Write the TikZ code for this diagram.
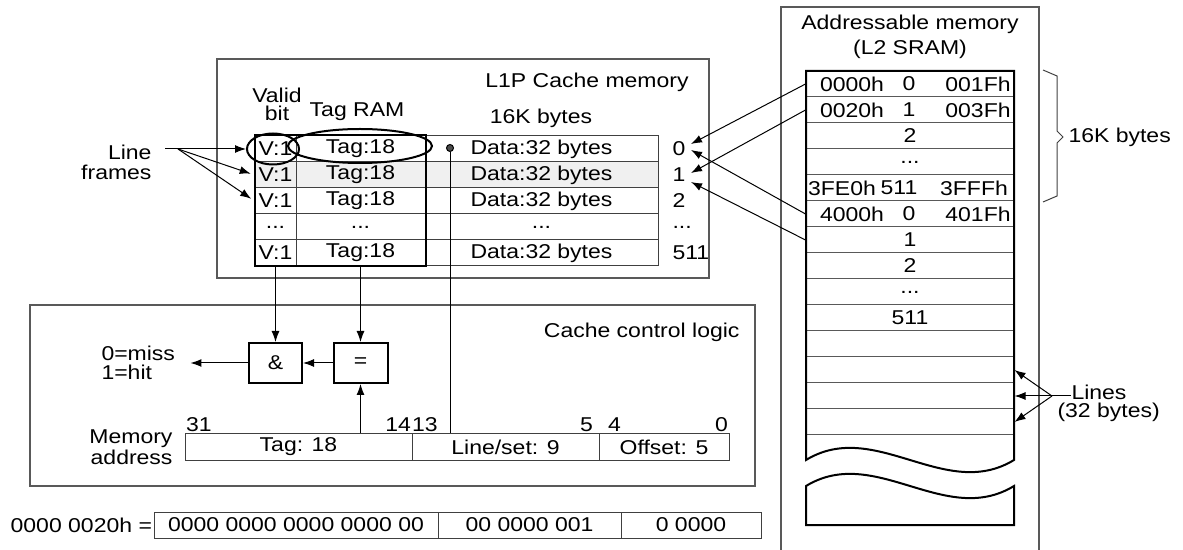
\documentclass[tikz,border=0pt]{standalone}
\usepackage{fontspec}
\setmainfont{Liberation Sans}[FakeStretch=1.15]
\usetikzlibrary{arrows.meta,shapes.geometric,positioning}

\tikzset{
  frame/.style={draw=black!65, line width=0.8pt},
  cell/.style={draw=black!75, line width=0.5pt, inner sep=0pt, minimum height=13pt},
  bold/.style={line width=1pt},
  arr/.style={-{Latex[length=5.5pt,width=4pt]}, line width=0.5pt},
  gate/.style={draw, line width=1pt, minimum width=26.5pt, minimum height=20pt, inner sep=0pt},
  memrow/.style={draw=black!65, line width=0.5pt, minimum width=104pt, minimum height=13pt, inner sep=0pt},
  lbl/.style={inner sep=0pt},
}

\begin{document}
\begin{tikzpicture}[x=0.5pt, y=-0.5pt, font=\fontsize{10}{10}\selectfont, line width=0.5pt]
        \useasboundingbox (0,0) rectangle (1183,550);
        % L1P cache memory
        \draw[frame] (217,59) rectangle (709,278);
        \node[lbl] (l1ptitle) at (587,82) {L1P Cache memory};
        \node[lbl] (l1psize) at (541,118) {16K bytes};
        \node[lbl, align=center, font=\fontsize{10}{9}\selectfont] (validhd) at (277,104) {Valid\\bit};
        \node[lbl] (taghd) at (357,112) {Tag RAM};
        \node[cell, minimum width=20.5pt] (v0) at (275.5,149) {V:1};
        \node[cell, minimum width=64.5pt] (tg0) at (360.5,149) {Tag:18};
        \node[cell, minimum width=116.5pt] (d0) at (541.5,149) {Data:32 bytes};
        \node[cell, fill=gray!12, minimum width=20.5pt] (v1) at (275.5,175) {V:1};
        \node[cell, fill=gray!12, minimum width=64.5pt] (tg1) at (360.5,175) {Tag:18};
        \node[cell, fill=gray!12, minimum width=116.5pt] (d1) at (541.5,175) {Data:32 bytes};
        \node[cell, minimum width=20.5pt] (v2) at (275.5,201) {V:1};
        \node[cell, minimum width=64.5pt] (tg2) at (360.5,201) {Tag:18};
        \node[cell, minimum width=116.5pt] (d2) at (541.5,201) {Data:32 bytes};
        \node[cell, minimum width=20.5pt] (v3) at (275.5,227) {...};
        \node[cell, minimum width=64.5pt] (tg3) at (360.5,227) {...};
        \node[cell, minimum width=116.5pt] (d3) at (541.5,227) {...};
        \node[cell, minimum width=20.5pt] (v4) at (275.5,253) {V:1};
        \node[cell, minimum width=64.5pt] (tg4) at (360.5,253) {Tag:18};
        \node[cell, minimum width=116.5pt] (d4) at (541.5,253) {Data:32 bytes};
        \draw[bold] (v0.north west) rectangle (tg4.south east);
        \node[draw, ellipse, bold, minimum width=26pt, minimum height=15.5pt, inner sep=0pt] (vring) at (273,149) {};
        \node[draw, ellipse, bold, minimum width=72pt, minimum height=17pt, inner sep=0pt] (tagring) at (360,146) {};
        \node[circle, draw=black, fill=black!70, inner sep=0pt, minimum size=3.5pt] (setdot) at (450,148) {};
        \node[lbl, anchor=west] (i0) at (672,149) {0};
        \node[lbl, anchor=west] (i1) at (672,175) {1};
        \node[lbl, anchor=west] (i2) at (672,201) {2};
        \node[lbl, anchor=west] (i3) at (672,227) {...};
        \node[lbl, anchor=west] (i4) at (672,253) {511};
        % line frames
        \node[lbl, align=right, anchor=east] (lineframes) at (152,162) {Line\\frames};
        \coordinate (lfstart) at (165,149);
        \coordinate (lfsplit) at (178,149);
        \draw[arr] (lfstart) -- (vring.west);
        \draw[arr, shorten >=2pt] (lfsplit) -- (v1.west);
        \draw[arr, shorten >=2pt] (lfsplit) -- (v2.west);
        % cache control logic
        \draw[frame] (30,305) rectangle (755,486);
        \node[lbl, anchor=east] (ctltitle) at (740,332) {Cache control logic};
        \node[gate] (andg) at (275.5,363) {\&};
        \node[gate, minimum width=27pt] (eqg) at (360.5,363) {=};
        \node[lbl, align=left, anchor=west, font=\fontsize{10}{9.5}\selectfont] (hitmiss) at (101,363) {0=miss\\1=hit};
        \draw[arr] (v4.south) -- (andg.north);
        \draw[arr] (tg4.south) -- (eqg.north);
        \draw[arr] (eqg.west) -- (andg.east);
        \draw[arr] (andg.west) -- ([xshift=7.5pt]hitmiss.east);
        \node[cell, minimum width=113.5pt] (tagf) at (298.5,447) {Tag: 18};
        \node[cell, minimum width=93.5pt] (linef) at (505.5,447) {Line/set: 9};
        \node[cell, minimum width=65pt] (offf) at (664,447) {Offset: 5};
        \node[lbl, align=right, anchor=east, font=\fontsize{10}{9}\selectfont] (memaddr) at (173,447) {Memory\\address};
        \node[lbl, anchor=base west] (b31) at ([shift={(0.5pt,1pt)}]tagf.north west) {31};
        \node[lbl, anchor=base east] (b14) at ([shift={(-0.5pt,1pt)}]tagf.north east) {14};
        \node[lbl, anchor=base west] (b13) at ([yshift=1pt]linef.north west) {13};
        \node[lbl, anchor=base east] (b5) at ([shift={(-3pt,1pt)}]linef.north east) {5};
        \node[lbl, anchor=base west] (b4) at ([shift={(4.5pt,1pt)}]offf.north west) {4};
        \node[lbl, anchor=base east] (b0) at ([shift={(-0.5pt,1pt)}]offf.north east) {0};
        \draw[arr] (eqg |- tagf.north) -- (eqg.south);
        \draw (setdot) -- (setdot |- linef.north);
        % example address
        \node[cell, minimum width=142pt] (bf0) at (296,525) {0000 0000 0000 0000 00};
        \node[cell, minimum width=91.5pt] (bf1) at (529.5,525) {00 0000 001};
        \node[cell, minimum width=70pt] (bf2) at (691,525) {0 0000};
        \node[lbl, anchor=east] (addrval) at ([xshift=-0.5pt]bf0.west) {0000 0020h =};
        % addressable memory
        \draw[frame] (781,550) -- (781,7) -- (1039,7) -- (1039,550);
        \node[lbl, align=center, font=\fontsize{10}{12.5}\selectfont] (l2title) at (910,37) {Addressable memory\\(L2 SRAM)};
        \node[memrow] (mr0) at (910,84) {};
        \node[memrow] (mr1) at (910,110) {};
        \node[memrow] (mr2) at (910,136) {2};
        \node[memrow] (mr3) at (910,162) {...};
        \node[memrow] (mr4) at (910,188) {};
        \node[memrow] (mr5) at (910,214) {};
        \node[memrow] (mr6) at (910,240) {1};
        \node[memrow] (mr7) at (910,266) {2};
        \node[memrow] (mr8) at (910,292) {...};
        \node[memrow] (mr9) at (910,318) {511};
        \node[memrow] (mr10) at (910,344) {};
        \node[memrow] (mr11) at (910,370) {};
        \node[memrow] (mr12) at (910,396) {};
        \node[memrow] (mr13) at (910,422) {};
        \node[lbl] (a0lo) at (852,84) {0000h};
        \node[lbl] (a0ix) at (909,84) {0};
        \node[lbl] (a0hi) at (978,84) {001Fh};
        \node[lbl] (a1lo) at (852,110) {0020h};
        \node[lbl] (a1ix) at (909,110) {1};
        \node[lbl] (a1hi) at (978,110) {003Fh};
        \node[lbl] (a4lo) at (842,188) {3FE0h};
        \node[lbl] (a4ix) at (899,188) {511};
        \node[lbl] (a4hi) at (974,188) {3FFFh};
        \node[lbl] (a5lo) at (852,214) {4000h};
        \node[lbl] (a5ix) at (909,214) {0};
        \node[lbl] (a5hi) at (978,214) {401Fh};
        \draw[bold] (806,460) -- (806,71) -- (1014,71) -- (1014,460) .. controls (945,502) and (875,418) .. cycle;
        \draw[bold] (806,486) .. controls (875,444) and (945,528) .. (1014,486) -- (1014,525) -- (806,525) -- cycle;
        \draw[draw=black!75] (1043,70) -- (1057,76) -- (1057,131) -- (1063,137) -- (1057,143) -- (1057,196) -- (1043,202);
        \node[lbl, anchor=west] (l2size) at (1068,137) {16K bytes};
        % mapping to cache lines
        \coordinate (hit0a) at (691,144);
        \coordinate (hit0b) at (691,150);
        \coordinate (hit1a) at (691,173);
        \coordinate (hit1b) at (691,182);
        \draw[arr] (mr0.west) -- (hit0a);
        \draw[arr] (mr1.west) -- (hit1a);
        \draw[arr] (mr5.west) -- (hit0b);
        \draw[arr] (mr6.west) -- (hit1b);
        % lines (32 bytes)
        \coordinate (lnsplit) at (1052,396);
        \node[lbl, anchor=west] (linesa) at (1071,392) {Lines};
        \node[lbl, anchor=west] (linesb) at (1057,412) {(32 bytes)};
        \draw (lnsplit) -- (lnsplit -| linesa.west);
        \draw[arr] (lnsplit) -- (mr11.east);
        \draw[arr] (lnsplit) -- (mr12.east);
        \draw[arr] (lnsplit) -- (mr13.east);
\end{tikzpicture}
\end{document}
